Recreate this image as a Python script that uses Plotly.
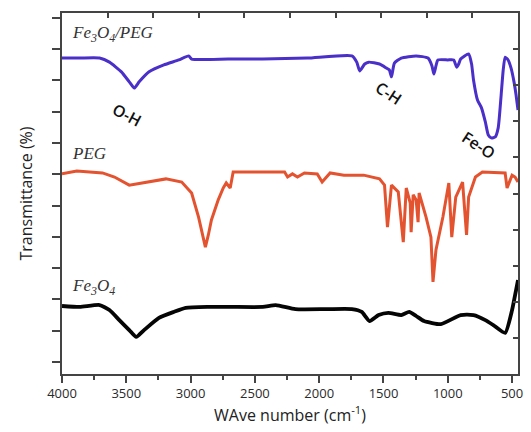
import plotly.graph_objects as go

# Fe3O4/PEG spectrum (wavenumber cm-1, transmittance a.u.)
peg_np_wn = [4000, 3862, 3708, 3631, 3538, 3477, 3438, 3400, 3323, 3208, 3092, 3015, 2992, 2708, 2438,
             2092, 1746, 1708, 1685, 1646, 1615, 1531, 1477, 1454, 1438, 1415, 1362, 1246, 1154, 1123,
             1108, 1092, 1077, 1000, 954, 931, 915, 900, 838, 815, 800, 769, 738, 708, 685, 662, 631,
             608, 585, 569, 554, 531, 508, 485, 469, 454]
peg_np_t = [9.71, 9.71, 9.71, 9.58, 9.27, 8.95, 8.75, 8.95, 9.27, 9.49, 9.65, 9.78, 9.68, 9.68, 9.68,
            9.71, 9.78, 9.58, 9.30, 9.52, 9.58, 9.52, 9.39, 9.33, 9.11, 9.55, 9.71, 9.78, 9.71, 9.46,
            9.20, 9.46, 9.65, 9.65, 9.65, 9.42, 9.52, 9.68, 9.84, 9.52, 9.01, 8.37, 8.12, 7.67, 7.25,
            7.16, 7.19, 7.48, 8.53, 9.33, 9.74, 9.65, 9.39, 8.95, 8.53, 8.05]

# PEG spectrum
peg_wn = [4000, 3885, 3685, 3592, 3477, 3338, 3192, 3069, 2992, 2938, 2908, 2885, 2862, 2838, 2785,
          2746, 2723, 2692, 2669, 2477, 2269, 2246, 2208, 2169, 2115, 2015, 1977, 1915, 1808, 1654,
          1531, 1492, 1469, 1438, 1385, 1346, 1323, 1292, 1285, 1269, 1246, 1231, 1223, 1169, 1131,
          1115, 1092, 1038, 992, 969, 938, 885, 854, 838, 785, 731, 554, 539, 500, 477, 462, 454]
peg_t = [6.01, 6.10, 6.04, 5.91, 5.65, 5.75, 5.85, 5.75, 5.40, 4.63, 4.06, 3.67, 4.06, 4.54, 5.18,
         5.56, 5.72, 5.56, 6.07, 6.07, 6.07, 5.91, 6.01, 5.91, 6.04, 6.01, 5.75, 6.04, 5.97, 5.97,
         5.85, 5.65, 4.31, 5.65, 5.43, 3.83, 5.56, 5.08, 4.15, 5.34, 5.18, 4.47, 5.40, 4.63, 3.99,
         2.56, 3.58, 4.63, 5.72, 3.99, 5.27, 5.75, 4.06, 5.27, 5.91, 6.07, 6.04, 5.56, 5.97, 5.91,
         5.81, 5.75]

# Fe3O4 spectrum
fe_wn = [4000, 3862, 3708, 3631, 3554, 3477, 3423, 3362, 3246, 3131, 3038, 2862, 2685, 2438, 2338,
         2185, 1938, 1746, 1669, 1608, 1538, 1462, 1362, 1300, 1246, 1185, 1054, 900, 800, 708,
         646, 554, 500, 469, 454]
fe_t = [1.79, 1.76, 1.82, 1.66, 1.34, 1.02, 0.80, 1.02, 1.41, 1.60, 1.73, 1.76, 1.76, 1.76, 1.82,
        1.69, 1.69, 1.69, 1.60, 1.31, 1.50, 1.57, 1.50, 1.60, 1.47, 1.31, 1.21, 1.50, 1.50, 1.34,
        1.18, 0.93, 1.66, 2.30, 2.62]

x_ticks = [4000, 3500, 3000, 2500, 2000, 1500, 1000, 500]

fig = go.Figure()
fig.add_trace(go.Scatter(x=fe_wn, y=fe_t, mode="lines",
                         line=dict(color="#050505", width=3.8, shape="spline", smoothing=0.5),
                         showlegend=False))
fig.add_trace(go.Scatter(x=peg_wn, y=peg_t, mode="lines",
                         line=dict(color="#E4532F", width=3), showlegend=False))
fig.add_trace(go.Scatter(x=peg_np_wn, y=peg_np_t, mode="lines",
                         line=dict(color="#4A2FC8", width=3, shape="spline", smoothing=0.5),
                         showlegend=False))
# invisible trace to carry the secondary (tick-only) axes
fig.add_trace(go.Scatter(x=[0.5], y=[0.5], xaxis="x2", yaxis="y2", mode="markers",
                         marker=dict(opacity=0), showlegend=False, hoverinfo="skip"))

axis_font = dict(family="Open Sans", size=13, color="#2a2a2a")

fig.update_layout(
    width=531, height=432,
    margin=dict(l=62, r=8, t=13, b=58),
    paper_bgcolor="white", plot_bgcolor="white",
    xaxis=dict(range=[4000, 454], tickvals=x_ticks, ticktext=[str(v) for v in x_ticks],
               ticks="outside", ticklen=7, tickwidth=1.5, tickcolor="#444",
               minor=dict(dtick=250, ticks="outside", ticklen=4, tickcolor="#444", tickwidth=1.5),
               showline=True, linecolor="#444", linewidth=1.6, mirror=True,
               showgrid=False, zeroline=False, tickfont=axis_font,
               title=dict(text="WAve number (cm<sup>-1</sup>)",
                          font=dict(family="Open Sans", size=16, color="#222"), standoff=2)),
    yaxis=dict(range=[-0.383, 11.15], dtick=1, tick0=0, showticklabels=False,
               ticks="outside", ticklen=8, tickwidth=1.5, tickcolor="#444",
               showline=True, linecolor="#444", linewidth=1.6, mirror=True,
               showgrid=False, zeroline=False,
               title=dict(text="Transmittance (%)",
                          font=dict(family="Open Sans", size=16, color="#222"), standoff=16)),
    xaxis2=dict(overlaying="x", side="top", range=[0, 1],
                tickvals=[0.1, 0.2, 0.3, 0.4, 0.5, 0.6, 0.7, 0.8, 0.9],
                ticks="inside", ticklen=5, tickwidth=1.5, tickcolor="#444",
                showticklabels=False, showline=False, showgrid=False, zeroline=False),
    yaxis2=dict(overlaying="y", side="right", range=[1, 0],
                tickvals=[0.1, 0.2, 0.3, 0.4, 0.5, 0.6, 0.7, 0.8, 0.9],
                ticks="inside", ticklen=5, tickwidth=1.5, tickcolor="#444",
                showticklabels=False, showline=False, showgrid=False, zeroline=False),
)

label_font = dict(family="Liberation Serif", size=17, color="#333")
fig.add_annotation(text="<i>Fe<sub>3</sub>O<sub>4</sub>/PEG</i>", xref="paper", yref="paper",
                   x=0.017, y=0.942, xanchor="left", yanchor="middle", showarrow=False, font=label_font)
fig.add_annotation(text="<i>PEG</i>", xref="paper", yref="paper",
                   x=0.017, y=0.612, xanchor="left", yanchor="middle", showarrow=False, font=label_font)
fig.add_annotation(text="<i>Fe<sub>3</sub>O<sub>4</sub></i>", xref="paper", yref="paper",
                   x=0.017, y=0.241, xanchor="left", yanchor="middle", showarrow=False, font=label_font)

band_font = dict(family="Open Sans", size=16, color="#111", weight=600)
fig.add_annotation(text="O-H", xref="paper", yref="paper", x=0.143, y=0.717,
                   xanchor="center", yanchor="middle",
                   showarrow=False, textangle=28, font=band_font)
fig.add_annotation(text="C-H", xref="paper", yref="paper", x=0.716, y=0.778,
                   xanchor="center", yanchor="middle",
                   showarrow=False, textangle=33, font=band_font)
fig.add_annotation(text="Fe-O", xref="paper", yref="paper", x=0.913, y=0.634,
                   xanchor="center", yanchor="middle",
                   showarrow=False, textangle=33, font=band_font)

fig.write_html("out.html", config={"displayModeBar": False},
               post_script="document.body.style.margin='0px';")
